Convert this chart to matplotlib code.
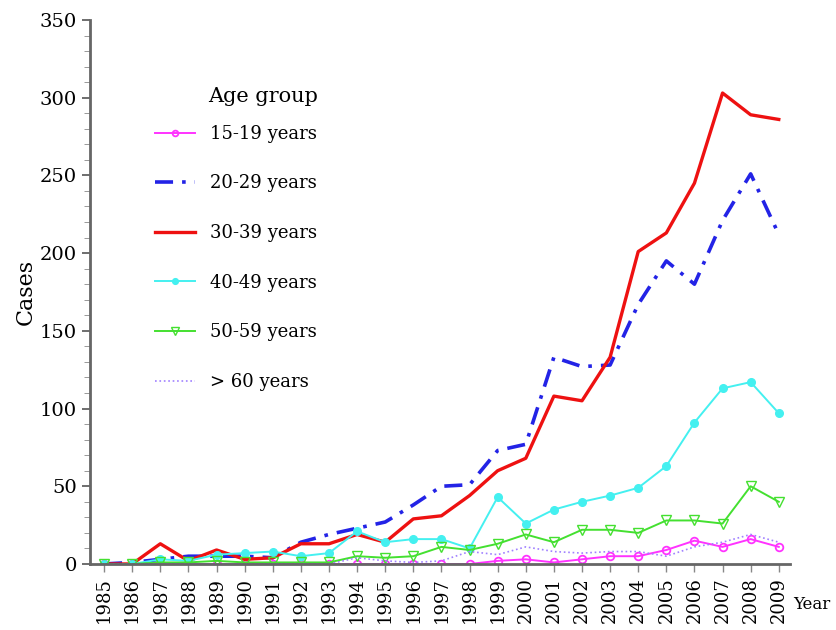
import matplotlib.pyplot as plt
from matplotlib.ticker import MultipleLocator

years = list(range(1985, 2010))

# cases per age group
g15_19 = [0, 0, 0, 0, 0, 0, 0, 0, 0, 0, 0, 0, 0, 0, 2, 3, 1, 3, 5, 5, 9, 15, 11, 16, 11]
g20_29 = [0, 1, 3, 5, 5, 5, 4, 14, 19, 23, 27, 38, 50, 51, 73, 77, 133, 127, 128, 167, 195, 180, 221, 251, 212]
g30_39 = [0, 0, 13, 2, 9, 3, 4, 13, 13, 19, 14, 29, 31, 44, 60, 68, 108, 105, 133, 201, 213, 245, 303, 289, 286]
g40_49 = [0, 0, 3, 2, 6, 7, 8, 5, 7, 21, 14, 16, 16, 10, 43, 26, 35, 40, 44, 49, 63, 91, 113, 117, 97]
g50_59 = [0, 0, 1, 1, 2, 1, 1, 1, 1, 5, 4, 5, 11, 9, 13, 19, 14, 22, 22, 20, 28, 28, 26, 50, 40]
g60 = [0, 0, 0, 0, 0, 0, 0, 0, 0, 4, 2, 1, 2, 8, 6, 11, 8, 7, 8, 8, 5, 11, 14, 19, 14]

plt.rcParams['font.family'] = 'DejaVu Serif'

fig = plt.figure(figsize=(8.36, 6.3), dpi=100)
ax = fig.add_axes([0.1077, 0.1048, 0.8373, 0.8635])

ax.plot(years, g15_19, color='#ff33ff', lw=1.4, marker='o', ms=5.5, mfc='none', mew=1.3, label='15-19 years')
ax.plot(years, g20_29, color='#2323e6', lw=2.6, ls=(0, (5, 2.5, 1, 2.5)), label='20-29 years')
ax.plot(years, g30_39, color='#ee1111', lw=2.4, label='30-39 years')
ax.plot(years, g40_49, color='#44f0f0', lw=1.4, marker='o', ms=5.5, label='40-49 years')
ax.plot(years, g50_59, color='#44e030', lw=1.4, marker='v', ms=7, mfc='none', mew=1.0, label='50-59 years')
ax.plot(years, g60, color='#a080ff', lw=1.2, ls=':', label='> 60 years')

ax.set_xlim(1984.5, 2009.4)
ax.set_ylim(0, 350)
ax.set_xticks(years)
ax.set_xticklabels([str(y) for y in years], rotation=90, fontsize=13)
ax.yaxis.set_major_locator(MultipleLocator(50))
ax.yaxis.set_minor_locator(MultipleLocator(10))
ax.tick_params(axis='y', labelsize=14, colors='#555555', labelcolor='black', length=6, width=1.2)
ax.tick_params(axis='y', which='minor', colors='#888888', length=4)
ax.tick_params(axis='x', colors='#888888', labelcolor='black', length=6, width=1)

for s in ['top', 'right']:
    ax.spines[s].set_visible(False)
for s in ['left', 'bottom']:
    ax.spines[s].set_color('#666666')
    ax.spines[s].set_linewidth(2)

ax.set_ylabel('Cases', fontsize=16, labelpad=2)
ax.text(1.005, -0.075, 'Year', transform=ax.transAxes, fontsize=12, ha='left', va='center')

ax.legend(loc='upper left', bbox_to_anchor=(0.07, 0.837), frameon=False, markerscale=0.75,
          fontsize=13, labelspacing=1.75, handlelength=2.2, handletextpad=0.85)
fig.text(208 / 836, 1 - 96 / 630, 'Age group', fontsize=15, ha='left', va='center')

fig.savefig('out.png', dpi=100)
